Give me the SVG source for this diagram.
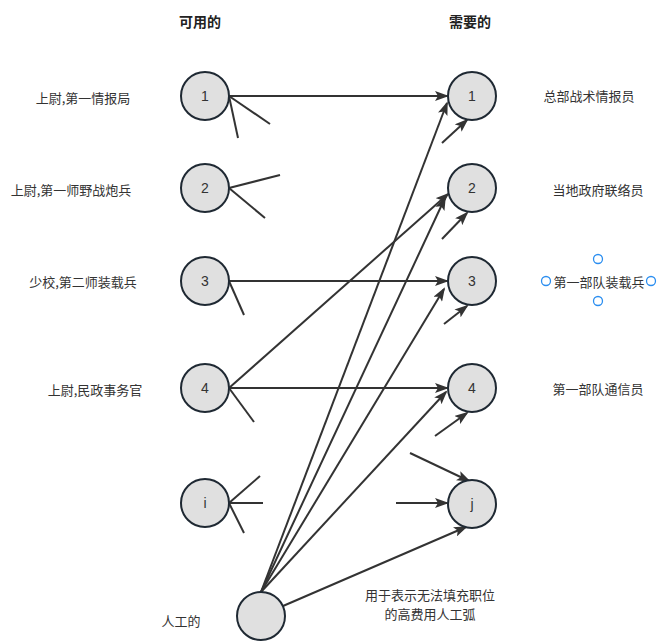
<svg xmlns="http://www.w3.org/2000/svg" width="671" height="644" viewBox="0 0 671 644">
<defs>
<style>
.node circle{fill:#e0e0e0;stroke:#1f2933;stroke-width:2}
.num{font-family:"Liberation Sans","Noto Sans",sans-serif;font-size:14px;fill:#333;text-anchor:middle;dominant-baseline:central}
.lbl{font-family:"Noto Sans CJK SC","Noto Sans",sans-serif;font-size:13px;fill:#333;text-anchor:middle;dominant-baseline:central}
.title{font-family:"Noto Sans CJK SC","Noto Sans",sans-serif;font-size:14px;font-weight:bold;fill:#222;text-anchor:middle;dominant-baseline:central}
.edges line{stroke:#333;stroke-width:2}
.edges line.a{marker-end:url(#arr)}
.handle{fill:#fff;stroke:#2b8ef0;stroke-width:1.3}
</style>
<marker id="arr" viewBox="0 0 14 10" refX="12" refY="5" markerWidth="14" markerHeight="10" markerUnits="userSpaceOnUse" orient="auto">
<path d="M0,0 L14,5 L0,10 L3,5 z" fill="#333"/>
</marker>
</defs>
<rect width="671" height="644" fill="#fff"/>

<text class="title" x="200" y="21">可用的</text>
<text class="title" x="470" y="21">需要的</text>

<g class="edges">
<line class="a" x1="229" y1="96" x2="447" y2="96"/>
<line x1="229" y1="96" x2="270" y2="124"/>
<line x1="229" y1="96" x2="238" y2="138"/>
<line x1="229" y1="188" x2="280" y2="175"/>
<line x1="229" y1="188" x2="265" y2="218"/>
<line class="a" x1="229" y1="281" x2="447" y2="281"/>
<line x1="229" y1="281" x2="244" y2="315"/>
<line class="a" x1="229" y1="388" x2="447" y2="388"/>
<line class="a" x1="229" y1="388" x2="448" y2="194"/>
<line x1="229" y1="388" x2="254" y2="422"/>
<line x1="229" y1="503" x2="260" y2="476"/>
<line x1="229" y1="503" x2="263" y2="503"/>
<line x1="229" y1="503" x2="244" y2="533"/>
<line class="a" x1="261" y1="592" x2="447" y2="103"/>
<line class="a" x1="261" y1="592" x2="445" y2="198"/>
<line class="a" x1="261" y1="592" x2="444" y2="289"/>
<line class="a" x1="261" y1="592" x2="446" y2="392"/>
<line class="a" x1="283" y1="606" x2="466" y2="527"/>
<line class="a" x1="442" y1="143" x2="467" y2="120"/>
<line class="a" x1="442" y1="239" x2="467" y2="213"/>
<line class="a" x1="444" y1="324" x2="467" y2="306"/>
<line class="a" x1="435" y1="436" x2="467" y2="413"/>
<line class="a" x1="410" y1="453" x2="469" y2="481"/>
<line class="a" x1="396" y1="503" x2="447" y2="503"/>
</g>

<g id="a1" class="node"><circle cx="205" cy="96" r="24"/><text class="num" x="205" y="96">1</text></g>
<g id="a2" class="node"><circle cx="205" cy="188" r="24"/><text class="num" x="205" y="188">2</text></g>
<g id="a3" class="node"><circle cx="205" cy="281" r="24"/><text class="num" x="205" y="281">3</text></g>
<g id="a4" class="node"><circle cx="205" cy="388" r="24"/><text class="num" x="205" y="388">4</text></g>
<g id="ai" class="node"><circle cx="205" cy="503" r="24"/><text class="num" x="205" y="503">i</text></g>

<g id="r1" class="node"><circle cx="472" cy="96" r="24"/><text class="num" x="472" y="96">1</text></g>
<g id="r2" class="node"><circle cx="472" cy="188" r="24"/><text class="num" x="472" y="188">2</text></g>
<g id="r3" class="node"><circle cx="472" cy="281" r="24"/><text class="num" x="472" y="281">3</text></g>
<g id="r4" class="node"><circle cx="472" cy="388" r="24"/><text class="num" x="472" y="388">4</text></g>
<g id="rj" class="node"><circle cx="472" cy="504" r="24"/><text class="num" x="472" y="504">j</text></g>

<g id="dummy" class="node"><circle cx="261" cy="616" r="24"/></g>

<g id="labels">
<text class="lbl" x="83" y="97">上尉,第一情报局</text>
<text class="lbl" x="71" y="189">上尉,第一师野战炮兵</text>
<text class="lbl" x="83" y="281">少校,第二师装载兵</text>
<text class="lbl" x="95" y="389">上尉,民政事务官</text>
<text class="lbl" x="589" y="95">总部战术情报员</text>
<text class="lbl" x="598" y="189">当地政府联络员</text>
<text class="lbl" x="599" y="281">第一部队装载兵</text>
<text class="lbl" x="598" y="388">第一部队通信员</text>
<text class="lbl" x="181" y="620">人工的</text>
<text class="lbl" x="430" y="594">用于表示无法填充职位</text>
<text class="lbl" x="430" y="613">的高费用人工弧</text>
</g>

<g id="handles">
<circle class="handle" cx="598" cy="259" r="4.5"/>
<circle class="handle" cx="546" cy="281" r="4.5"/>
<circle class="handle" cx="651" cy="281" r="4.5"/>
<circle class="handle" cx="598" cy="301" r="4.5"/>
</g>
</svg>
